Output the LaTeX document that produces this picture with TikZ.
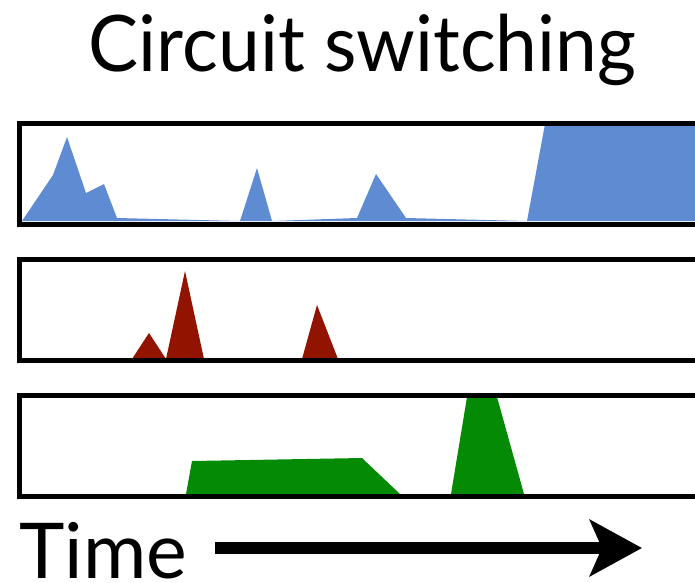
\documentclass[tikz,border=0pt]{standalone}
\usepackage{fontspec}
\setmainfont{Lato}
\newfontfamily\titlefont[FakeStretch=0.96]{Lato}
\usepackage{tikz}
\usetikzlibrary{arrows.meta}
\definecolor{flowblue}{RGB}{95,139,210}
\definecolor{flowred}{RGB}{146,20,0}
\definecolor{flowgreen}{RGB}{5,138,5}

\tikzset{
	chan/.style={draw=black, line width=5pt},
	timearrow/.style={line width=12pt, -{Stealth[length=52pt,width=56pt,inset=12pt]}},
}

\begin{document}
\begin{tikzpicture}[x=1pt, y=-1pt]
			\clip (0,0) rectangle (695,582);
			% traffic of each flow
			\fill [color=flowblue] (22,221) -- (53,175) -- (67,137) -- (86,193) -- (104,184) -- (117,218) -- (240,221) -- (257,168) -- (272,221) -- (357,218) -- (376,174) -- (406,218) -- (527,221) -- (545,124) -- (720,124) -- (720,221) -- cycle;
			\fill [color=flowred] (25,361) -- (132,359) -- (149,333) -- (166,359) -- (185,271) -- (204,359) -- (302,359) -- (317,305) -- (338,359) -- cycle;
			\fill [color=flowgreen] (186,494) -- (192,461) -- (362,458) -- (400,494) -- cycle;
			\fill [color=flowgreen] (451,494) -- (467,397) -- (497,397) -- (524,494) -- cycle;
			% one channel per flow
			\draw [chan] (19.5,123.5) rectangle (720,224);
			\draw [chan] (19.5,259.5) rectangle (720,360);
			\draw [chan] (19.5,395.5) rectangle (720,496);
			\node (title) [anchor=base, inner sep=0pt] at (362.5,71) {\titlefont\fontsize{78}{78}\selectfont Circuit switching};
			\node (timelbl) [anchor=base west, inner sep=0pt] at (19,578) {\fontsize{77}{77}\selectfont Time};
			\coordinate (arrowstart) at (215,548);
			\coordinate (arrowtip) at (642,548);
			\draw [timearrow] (arrowstart) -- (arrowtip);
		\end{tikzpicture}
\end{document}
